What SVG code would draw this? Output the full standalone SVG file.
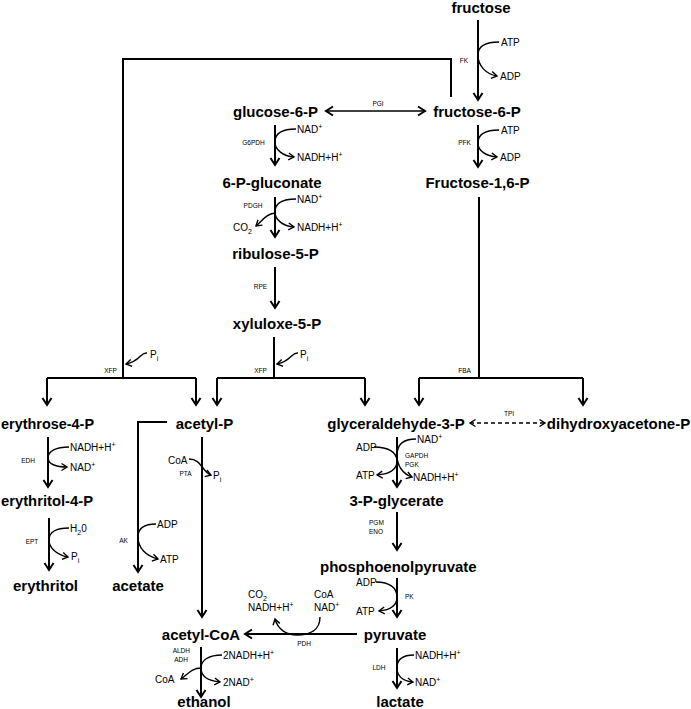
<svg xmlns="http://www.w3.org/2000/svg" width="691" height="709" viewBox="0 0 691 709">
<defs>
<style>
.n{font-family:"Liberation Sans",Arial,sans-serif;font-weight:bold;font-size:15px;fill:#000}
.c{font-family:"Liberation Sans",Arial,sans-serif;font-size:10px;fill:#000}
.e{font-family:"Liberation Sans",Arial,sans-serif;font-size:6.5px;fill:#000}
.m{fill:none;stroke:#000;stroke-width:2}
.s{fill:none;stroke:#000;stroke-width:1.4}
.d{fill:none;stroke:#000;stroke-width:1.4;stroke-dasharray:4 3}
</style>
<marker id="ah" viewBox="-10 -6 12 12" markerWidth="12" markerHeight="12" refX="0" refY="0" orient="auto-start-reverse" markerUnits="userSpaceOnUse"><path d="M-7,-4.5 L0,0 L-7,4.5" fill="none" stroke="#000" stroke-width="2"/></marker>
<marker id="sh" viewBox="-8 -5 10 10" markerWidth="10" markerHeight="10" refX="0" refY="0" orient="auto-start-reverse" markerUnits="userSpaceOnUse"><path d="M-5.5,-3.5 L0,0 L-5.5,3.5" fill="none" stroke="#000" stroke-width="1.4"/></marker>
</defs>
<rect width="691" height="709" fill="#fff"/>

<g id="connectors">
<!-- FK -->
<path class="m" d="M478,20 V100" marker-end="url(#ah)"/>
<path class="s" d="M499,42 C486,42 478,46 478,55 C478,66 486,74 497,76" marker-end="url(#sh)"/>
<!-- F6P to XFP left -->
<path class="m" d="M451,97 V59 H123 V378"/>
<path class="m" d="M47,378 H196"/>
<path class="m" d="M47,378 V405" marker-end="url(#ah)"/>
<path class="m" d="M196,378 V405" marker-end="url(#ah)"/>
<path class="s" d="M147,353 C140,352 141,361 126,364" marker-end="url(#sh)"/>
<!-- PGI -->
<path class="s" d="M326,111 H425" marker-start="url(#ah)" marker-end="url(#ah)"/>
<!-- G6PDH -->
<path class="m" d="M275,125 V165" marker-end="url(#ah)"/>
<path class="s" d="M296,129 C283,129 275,133 275,142 C275,150 283,156 294,157" marker-end="url(#sh)"/>
<!-- PDGH -->
<path class="m" d="M275,197 V237" marker-end="url(#ah)"/>
<path class="s" d="M296,199 C283,199 275,203 275,212 C275,220 283,226 294,227" marker-end="url(#sh)"/>
<path class="s" d="M275,213 C266,214 262,221 256,226" marker-end="url(#sh)"/>
<!-- RPE -->
<path class="m" d="M275,267 V308" marker-end="url(#ah)"/>
<!-- XFP right -->
<path class="m" d="M274,337 V378"/>
<path class="m" d="M217,378 H365"/>
<path class="m" d="M217,378 V405" marker-end="url(#ah)"/>
<path class="m" d="M365,378 V405" marker-end="url(#ah)"/>
<path class="s" d="M298,353 C291,352 292,361 277,364" marker-end="url(#sh)"/>
<!-- PFK -->
<path class="m" d="M478,125 V167" marker-end="url(#ah)"/>
<path class="s" d="M499,130 C486,130 478,134 478,143 C478,151 486,156 497,157" marker-end="url(#sh)"/>
<!-- FBA -->
<path class="m" d="M479,197 V378"/>
<path class="m" d="M419,378 H583"/>
<path class="m" d="M419,378 V405" marker-end="url(#ah)"/>
<path class="m" d="M583,378 V405" marker-end="url(#ah)"/>
<!-- TPI -->
<path class="d" d="M470,423 H545" marker-start="url(#sh)" marker-end="url(#sh)"/>
<!-- EDH -->
<path class="m" d="M48,437 V487" marker-end="url(#ah)"/>
<path class="s" d="M69,447 C56,447 48,451 48,458 C48,464 56,467 67,467" marker-end="url(#sh)"/>
<!-- EPT -->
<path class="m" d="M49,518 V570" marker-end="url(#ah)"/>
<path class="s" d="M69,528 C56,528 49,532 49,540 C49,548 57,555 68,557" marker-end="url(#sh)"/>
<!-- AK -->
<path class="m" d="M167,422 H138 V572" marker-end="url(#ah)"/>
<path class="s" d="M156,524 C144,524 138,528 138,537 C138,548 146,556 158,559" marker-end="url(#sh)"/>
<!-- PTA -->
<path class="m" d="M202,437 V617" marker-end="url(#ah)"/>
<path class="s" d="M189,459 C197,459 200,464 203,468 C206,472 208,474 211,475" marker-end="url(#sh)"/>
<!-- GAPDH PGK -->
<path class="m" d="M397,437 V487" marker-end="url(#ah)"/>
<path class="s" d="M416,439 C404,439 397,444 397,455 C397,466 403,474 412,477" marker-end="url(#sh)"/>
<path class="s" d="M374,447 C388,447 397,452 397,461 C397,469 390,474 377,475" marker-end="url(#sh)"/>
<!-- PGM ENO -->
<path class="m" d="M397,512 V550" marker-end="url(#ah)"/>
<!-- PK -->
<path class="m" d="M397,578 V617" marker-end="url(#ah)"/>
<path class="s" d="M376,582 C390,582 397,588 397,597 C397,606 390,610 379,611" marker-end="url(#sh)"/>
<!-- PDH -->
<path class="m" d="M357,634 H245" marker-end="url(#ah)"/>
<path class="s" d="M320,617 C320,630 310,635 297,635 C287,635 278,630 275,619" marker-end="url(#sh)"/>
<!-- ALDH ADH -->
<path class="m" d="M201,647 V697" marker-end="url(#ah)"/>
<path class="s" d="M222,655 C209,655 201,660 201,668 C201,677 209,681 220,682" marker-end="url(#sh)"/>
<path class="s" d="M201,668 C192,668 188,674 181,679" marker-end="url(#sh)"/>
<!-- LDH -->
<path class="m" d="M397,648 V688" marker-end="url(#ah)"/>
<path class="s" d="M414,655 C402,655 397,660 397,668 C397,676 403,681 413,682" marker-end="url(#sh)"/>
</g>

<g id="fructose"><text class="n" x="481" y="13" text-anchor="middle">fructose</text></g>
<g id="fructose-6-P"><text class="n" x="477" y="117" text-anchor="middle">fructose-6-P</text></g>
<g id="glucose-6-P"><text class="n" x="275.5" y="117" text-anchor="middle">glucose-6-P</text></g>
<g id="6-P-gluconate"><text class="n" x="272" y="188" text-anchor="middle">6-P-gluconate</text></g>
<g id="fructose-1-6-P"><text class="n" x="477.5" y="188" text-anchor="middle">Fructose-1,6-P</text></g>
<g id="ribulose-5-P"><text class="n" x="275.5" y="259" text-anchor="middle">ribulose-5-P</text></g>
<g id="xyluloxe-5-P"><text class="n" x="277" y="329" text-anchor="middle">xyluloxe-5-P</text></g>
<g id="erythrose-4-P"><text class="n" x="1" y="429" textLength="93" lengthAdjust="spacingAndGlyphs">erythrose-4-P</text></g>
<g id="acetyl-P"><text class="n" x="204.5" y="429" text-anchor="middle">acetyl-P</text></g>
<g id="glyceraldehyde-3-P"><text class="n" x="396" y="429" text-anchor="middle">glyceraldehyde-3-P</text></g>
<g id="dihydroxyacetone-P"><text class="n" x="618.5" y="429" text-anchor="middle">dihydroxyacetone-P</text></g>
<g id="erythritol-4-P"><text class="n" x="1" y="506" textLength="92" lengthAdjust="spacingAndGlyphs">erythritol-4-P</text></g>
<g id="3-P-glycerate"><text class="n" x="396.5" y="506" text-anchor="middle">3-P-glycerate</text></g>
<g id="erythritol"><text class="n" x="45.5" y="591" text-anchor="middle">erythritol</text></g>
<g id="acetate"><text class="n" x="138" y="591" text-anchor="middle">acetate</text></g>
<g id="phosphoenolpyruvate"><text class="n" x="320" y="572">phosphoenolpyruvate</text></g>
<g id="acetyl-CoA"><text class="n" x="201" y="640" text-anchor="middle">acetyl-CoA</text></g>
<g id="pyruvate"><text class="n" x="395" y="640" text-anchor="middle">pyruvate</text></g>
<g id="ethanol"><text class="n" x="204" y="707" text-anchor="middle">ethanol</text></g>
<g id="lactate"><text class="n" x="400" y="707" text-anchor="middle">lactate</text></g>

<g id="cofactors">
<text class="c" x="501" y="45.5">ATP</text>
<text class="c" x="500" y="80">ADP</text>
<text class="c" x="150" y="358">P<tspan font-size="7" dy="3">i</tspan></text>
<text class="c" x="300" y="358">P<tspan font-size="7" dy="3">i</tspan></text>
<text class="c" x="297" y="132.5">NAD<tspan font-size="7" dy="-4">+</tspan></text>
<text class="c" x="297" y="160.5">NADH+H<tspan font-size="7" dy="-4">+</tspan></text>
<text class="c" x="297" y="202.5">NAD<tspan font-size="7" dy="-4">+</tspan></text>
<text class="c" x="297" y="230.5">NADH+H<tspan font-size="7" dy="-4">+</tspan></text>
<text class="c" x="233" y="230.5">CO<tspan font-size="7" dy="3">2</tspan></text>
<text class="c" x="501" y="133.5">ATP</text>
<text class="c" x="500" y="160.5">ADP</text>
<text class="c" x="70" y="450.5">NADH+H<tspan font-size="7" dy="-4">+</tspan></text>
<text class="c" x="70" y="470.5">NAD<tspan font-size="7" dy="-4">+</tspan></text>
<text class="c" x="70" y="531.5">H<tspan font-size="7" dy="3">2</tspan><tspan dy="-3">0</tspan></text>
<text class="c" x="71" y="560">P<tspan font-size="7" dy="3">i</tspan></text>
<text class="c" x="157" y="527.5">ADP</text>
<text class="c" x="160" y="562.5">ATP</text>
<text class="c" x="168" y="463.5">CoA</text>
<text class="c" x="213" y="479">P<tspan font-size="7" dy="3">i</tspan></text>
<text class="c" x="417" y="442.5">NAD<tspan font-size="7" dy="-4">+</tspan></text>
<text class="c" x="413" y="480.5">NADH+H<tspan font-size="7" dy="-4">+</tspan></text>
<text class="c" x="356" y="450.5">ADP</text>
<text class="c" x="356" y="478.5">ATP</text>
<text class="c" x="356" y="585.5">ADP</text>
<text class="c" x="356" y="614.5">ATP</text>
<text class="c" x="248" y="598">CO<tspan font-size="7" dy="3">2</tspan></text>
<text class="c" x="248" y="610.5">NADH+H<tspan font-size="7" dy="-4">+</tspan></text>
<text class="c" x="314" y="598">CoA</text>
<text class="c" x="314" y="610.5">NAD<tspan font-size="7" dy="-4">+</tspan></text>
<text class="c" x="223" y="658.5">2NADH+H<tspan font-size="7" dy="-4">+</tspan></text>
<text class="c" x="223" y="685.5">2NAD<tspan font-size="7" dy="-4">+</tspan></text>
<text class="c" x="155" y="682.5">CoA</text>
<text class="c" x="415" y="658.5">NADH+H<tspan font-size="7" dy="-4">+</tspan></text>
<text class="c" x="415" y="685.5">NAD<tspan font-size="7" dy="-4">+</tspan></text>
</g>

<g id="enzymes">
<text class="e" x="464" y="62.5" text-anchor="middle">FK</text>
<text class="e" x="378" y="105.5" text-anchor="middle">PGI</text>
<text class="e" x="253.5" y="144.5" text-anchor="middle">G6PDH</text>
<text class="e" x="253" y="207.5" text-anchor="middle">PDGH</text>
<text class="e" x="260.5" y="288.5" text-anchor="middle">RPE</text>
<text class="e" x="110.5" y="372.5" text-anchor="middle">XFP</text>
<text class="e" x="260.5" y="372.5" text-anchor="middle">XFP</text>
<text class="e" x="464.5" y="144.5" text-anchor="middle">PFK</text>
<text class="e" x="464.5" y="372.5" text-anchor="middle">FBA</text>
<text class="e" x="509" y="415.5" text-anchor="middle">TPI</text>
<text class="e" x="28" y="462.5" text-anchor="middle">EDH</text>
<text class="e" x="32" y="543.5" text-anchor="middle">EPT</text>
<text class="e" x="123.5" y="542.5" text-anchor="middle">AK</text>
<text class="e" x="185.5" y="475.5" text-anchor="middle">PTA</text>
<text class="e" x="405" y="457.5">GAPDH</text>
<text class="e" x="405" y="466.5">PGK</text>
<text class="e" x="369" y="525">PGM</text>
<text class="e" x="369" y="533.5">ENO</text>
<text class="e" x="405" y="598.5">PK</text>
<text class="e" x="304" y="645.5" text-anchor="middle">PDH</text>
<text class="e" x="190" y="652.5" text-anchor="end">ALDH</text>
<text class="e" x="188" y="661.5" text-anchor="end">ADH</text>
<text class="e" x="379" y="669.5" text-anchor="middle">LDH</text>
</g>
</svg>
